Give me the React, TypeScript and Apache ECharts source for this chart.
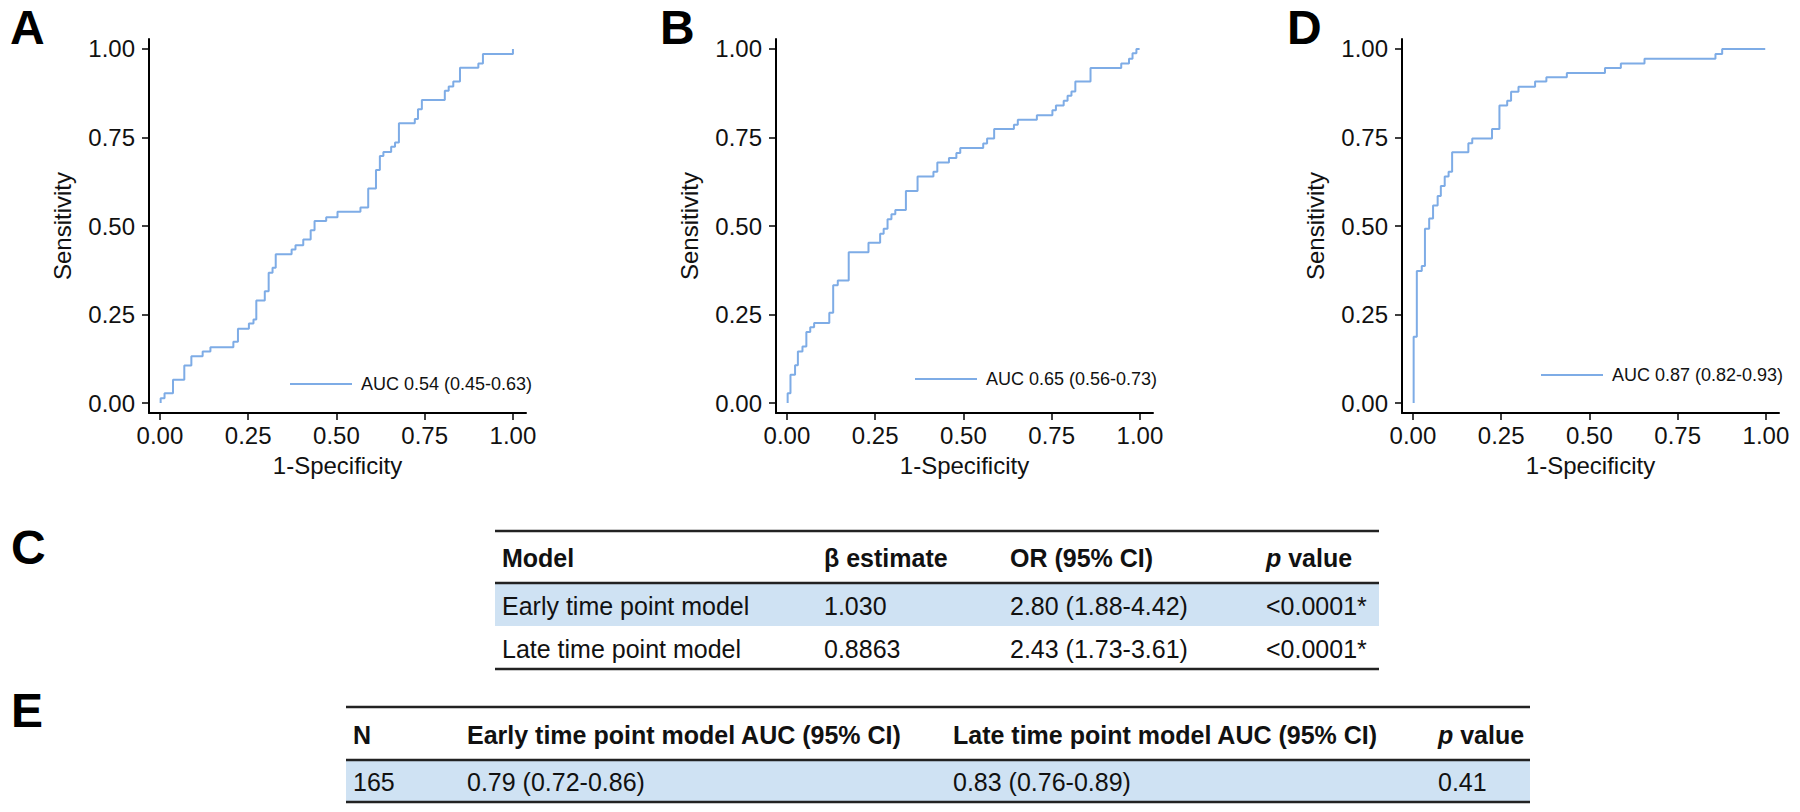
import React, { useEffect, useRef } from "react";
import * as echarts from "echarts";

// ---------- data ----------
const fprA = [0.002, 0.002, 0.013, 0.037, 0.069, 0.089, 0.121, 0.143, 0.208, 0.221, 0.252, 0.265, 0.273, 0.297, 0.308, 0.319, 0.328, 0.373, 0.384, 0.406, 0.427, 0.438, 0.471, 0.503, 0.568, 0.590, 0.612, 0.623, 0.633, 0.655, 0.666, 0.677, 0.722, 0.731, 0.742, 0.807, 0.818, 0.831, 0.850, 0.902, 0.915, 1.0];
const tprA = [0, 0.014, 0.028, 0.066, 0.106, 0.132, 0.146, 0.158, 0.173, 0.210, 0.225, 0.236, 0.290, 0.316, 0.368, 0.382, 0.420, 0.434, 0.446, 0.462, 0.488, 0.514, 0.525, 0.540, 0.552, 0.606, 0.658, 0.698, 0.709, 0.724, 0.736, 0.790, 0.802, 0.830, 0.856, 0.882, 0.894, 0.908, 0.947, 0.959, 0.986, 1.0];

const fprB = [0.002, 0.002, 0.010, 0.023, 0.031, 0.044, 0.055, 0.066, 0.077, 0.120, 0.131, 0.144, 0.175, 0.231, 0.264, 0.274, 0.285, 0.296, 0.307, 0.337, 0.370, 0.415, 0.426, 0.459, 0.480, 0.491, 0.556, 0.567, 0.587, 0.643, 0.654, 0.708, 0.752, 0.762, 0.784, 0.795, 0.806, 0.817, 0.860, 0.947, 0.969, 0.979, 0.990, 0.999];
const tprB = [0, 0.028, 0.080, 0.107, 0.146, 0.160, 0.201, 0.214, 0.226, 0.255, 0.333, 0.346, 0.426, 0.453, 0.478, 0.492, 0.519, 0.533, 0.545, 0.599, 0.640, 0.653, 0.679, 0.692, 0.706, 0.720, 0.733, 0.747, 0.774, 0.786, 0.800, 0.813, 0.827, 0.840, 0.854, 0.868, 0.880, 0.908, 0.946, 0.959, 0.972, 0.988, 1.0, 1.0];

const fprD = [0.002, 0.002, 0.011, 0.025, 0.034, 0.046, 0.057, 0.070, 0.079, 0.090, 0.101, 0.111, 0.157, 0.168, 0.224, 0.245, 0.267, 0.278, 0.299, 0.346, 0.378, 0.436, 0.544, 0.589, 0.656, 0.857, 0.876, 0.998];
const tprD = [0, 0.187, 0.373, 0.387, 0.492, 0.521, 0.558, 0.585, 0.613, 0.640, 0.653, 0.708, 0.734, 0.747, 0.774, 0.840, 0.854, 0.879, 0.893, 0.908, 0.920, 0.932, 0.946, 0.959, 0.972, 0.986, 1.0, 1.0];

const curveNames = ["AUC 0.54 (0.45-0.63)", "AUC 0.65 (0.56-0.73)", "AUC 0.87 (0.82-0.93)"];
const panelLetters = ["A", "B", "D"];
const tickValues = [0, 0.25, 0.5, 0.75, 1];

const tableCHeader = ["Model", "β estimate", "OR (95% CI)", "p value"];
const tableCRows = [
  ["Early time point model", "1.030", "2.80 (1.88-4.42)", "<0.0001*"],
  ["Late time point model", "0.8863", "2.43 (1.73-3.61)", "<0.0001*"],
];
const tableEHeader = ["N", "Early time point model AUC (95% CI)", "Late time point model AUC (95% CI)", "p value"];
const tableERows = [["165", "0.79 (0.72-0.86)", "0.83 (0.76-0.89)", "0.41"]];

// ---------- style / layout ----------
const FONT = "'Liberation Sans', Arial, Helvetica, sans-serif";
const LINE = "#7EACE6";
const INK = "#111111";
const ROWBG = "#CFE2F3";

const gridLefts = [149, 776, 1402];
const legendPos = [
  { left: 290, top: 375 },
  { left: 915, top: 370 },
  { left: 1541, top: 366 },
];
const letterPos = [
  { x: 10, y: 27 },
  { x: 660, y: 27 },
  { x: 1287, y: 27 },
];

function zip(xs: number[], ys: number[]) {
  return xs.map((x, i) => [x, ys[i]]);
}

function buildTable(
  header: string[],
  rows: string[][],
  colX: number[],
  left: number,
  right: number,
  top: number,
  headerBottom: number,
  rowH: number,
  shade: boolean[]
) {
  const els: any[] = [];
  const headerMid = (top + headerBottom) / 2;
  rows.forEach((row, r) => {
    const y0 = headerBottom + r * rowH;
    if (shade[r]) {
      els.push({
        type: "rect",
        shape: { x: left, y: y0, width: right - left, height: rowH },
        style: { fill: ROWBG },
        z: 1,
      });
    }
    row.forEach((cell, c) => {
      els.push({
        type: "text",
        x: colX[c],
        y: y0 + rowH / 2 + 1,
        style: {
          text: cell,
          fontSize: 25,
          fontFamily: FONT,
          fill: INK,
          align: "left",
          verticalAlign: "middle",
        },
        z: 3,
      });
    });
  });
  header.forEach((h, c) => {
    const isP = h.startsWith("p ");
    els.push({
      type: "text",
      x: colX[c],
      y: headerMid + 1,
      style: isP
        ? {
            text: "{i|p}{b| value}",
            fontSize: 25,
            fontFamily: FONT,
            fontWeight: "bold",
            fill: INK,
            align: "left",
            verticalAlign: "middle",
            rich: {
              i: { fontStyle: "italic", fontWeight: "bold", fontSize: 25, fontFamily: FONT, fill: INK },
              b: { fontWeight: "bold", fontSize: 25, fontFamily: FONT, fill: INK },
            },
          }
        : {
            text: h,
            fontSize: 25,
            fontFamily: FONT,
            fontWeight: "bold",
            fill: INK,
            align: "left",
            verticalAlign: "middle",
          },
      z: 3,
    });
  });
  const bottom = headerBottom + rows.length * rowH;
  [top, headerBottom, bottom].forEach((y) => {
    els.push({
      type: "line",
      shape: { x1: left, y1: y, x2: right, y2: y },
      style: { stroke: "#222", lineWidth: 2.5 },
      z: 4,
    });
  });
  return els;
}

export default function App() {
  const ref = useRef<HTMLDivElement>(null);

  useEffect(() => {
    if (!ref.current) return;
    const chart = echarts.init(ref.current, null, { renderer: "svg" });
    const curves = [zip(fprA, tprA), zip(fprB, tprB), zip(fprD, tprD)];

    const grids = gridLefts.map((left) => ({ left, top: 39, width: 377, height: 374 }));

    const xAxes = gridLefts.map((_, i) => ({
      gridIndex: i,
      type: "value",
      min: -0.031,
      max: 1.037,
      axisLine: { show: true, onZero: false, lineStyle: { color: "#000", width: 2 } },
      axisTick: { show: true, length: 7, customValues: tickValues, lineStyle: { color: "#000", width: 1.5 } },
      axisLabel: {
        customValues: tickValues,
        formatter: (v: number) => v.toFixed(2),
        fontSize: 24,
        color: INK,
        fontFamily: FONT,
        margin: 10,
      },
      splitLine: { show: false },
      name: "1-Specificity",
      nameLocation: "middle",
      nameGap: 40,
      nameTextStyle: { fontSize: 24, color: INK, fontFamily: FONT },
    }));

    const yAxes = gridLefts.map((_, i) => ({
      gridIndex: i,
      type: "value",
      min: -0.028,
      max: 1.028,
      axisLine: { show: true, onZero: false, lineStyle: { color: "#000", width: 2 } },
      axisTick: { show: true, length: 7, customValues: tickValues, lineStyle: { color: "#000", width: 1.5 } },
      axisLabel: {
        customValues: tickValues,
        formatter: (v: number) => v.toFixed(2),
        fontSize: 24,
        color: INK,
        fontFamily: FONT,
        margin: 14,
      },
      splitLine: { show: false },
      name: "Sensitivity",
      nameLocation: "middle",
      nameGap: 75,
      nameTextStyle: { fontSize: 24, color: INK, fontFamily: FONT },
    }));

    const series = curves.map((data, i) => ({
      type: "line",
      name: curveNames[i],
      xAxisIndex: i,
      yAxisIndex: i,
      data,
      step: "end",
      symbol: "none",
      lineStyle: { color: LINE, width: 2 },
      itemStyle: { color: LINE },
    }));

    const legends = curveNames.map((n, i) => ({
      data: [n],
      left: legendPos[i].left,
      top: legendPos[i].top,
      padding: 0,
      icon: "rect",
      itemWidth: 62,
      itemHeight: 2,
      selectedMode: false,
      textStyle: { fontSize: 18, color: INK, fontFamily: FONT, padding: [0, 0, 0, 4] },
    }));

    const letters = [
      ...panelLetters.map((l, i) => ({ text: l, x: letterPos[i].x, y: letterPos[i].y })),
      { text: "C", x: 11, y: 547 },
      { text: "E", x: 11, y: 710 },
    ].map((p) => ({
      type: "text",
      x: p.x,
      y: p.y,
      style: {
        text: p.text,
        fontSize: 48,
        fontWeight: "bold",
        fontFamily: FONT,
        fill: "#000",
        align: "left",
        verticalAlign: "middle",
      },
    }));

    const tableC = buildTable(
      tableCHeader,
      tableCRows,
      [502, 824, 1010, 1266],
      495,
      1379,
      531,
      583,
      43,
      [true, false]
    );
    const tableE = buildTable(
      tableEHeader,
      tableERows,
      [353, 467, 953, 1438],
      346,
      1530,
      707,
      760,
      42,
      [true]
    );

    chart.setOption({
      animation: false,
      backgroundColor: "#ffffff",
      grid: grids,
      xAxis: xAxes,
      yAxis: yAxes,
      series,
      legend: legends,
      graphic: [...letters, ...tableC, ...tableE],
    });

    return () => chart.dispose();
  }, []);

  return (
    <div
      ref={ref}
      style={{ position: "absolute", left: 0, top: 0, width: 1800, height: 812, background: "#fff" }}
    />
  );
}
